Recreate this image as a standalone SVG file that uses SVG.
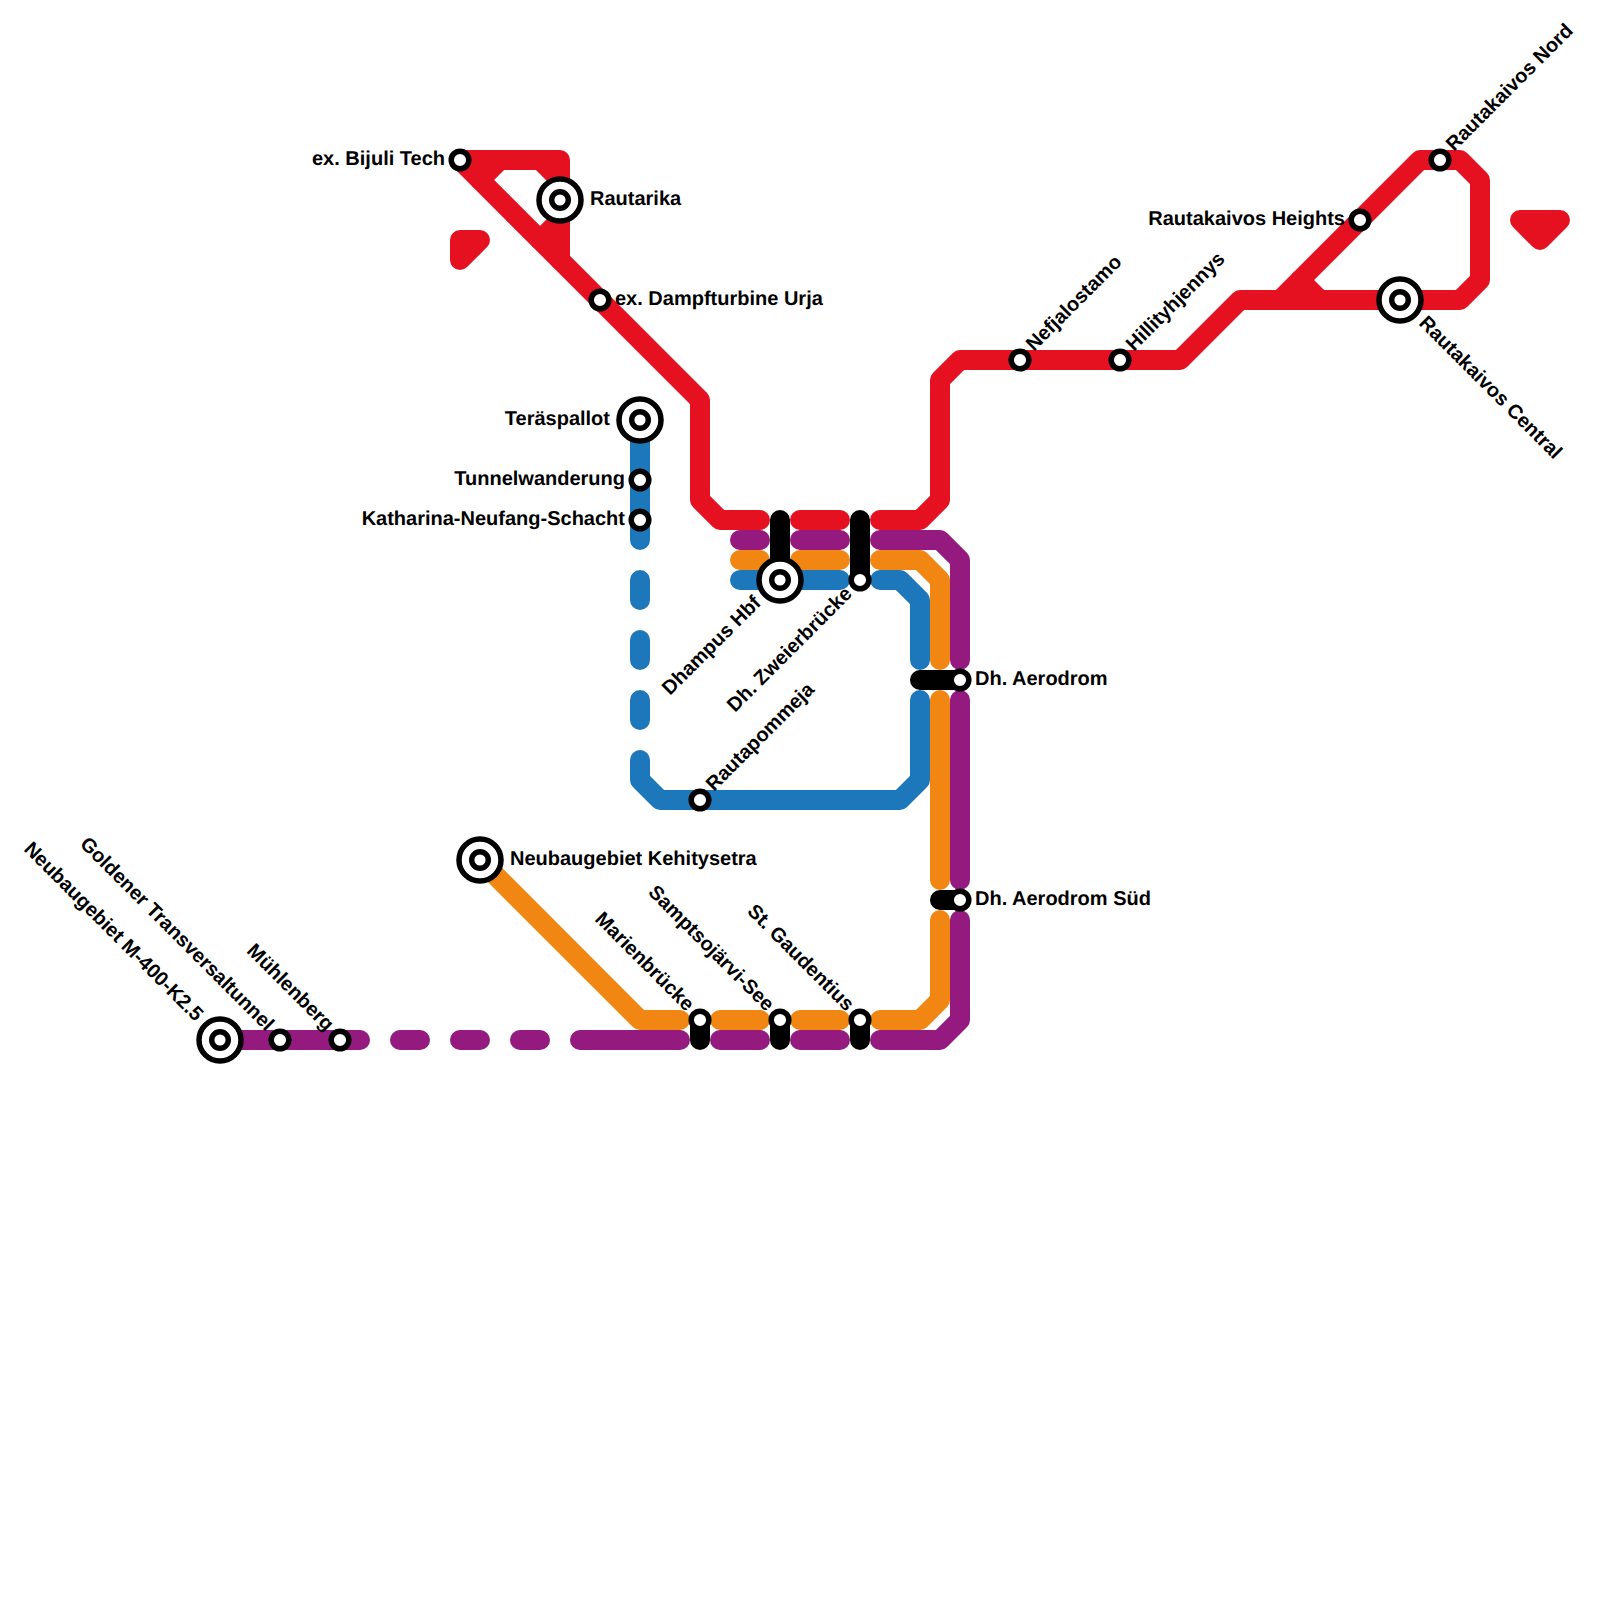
<svg xmlns="http://www.w3.org/2000/svg" width="1600" height="1600" viewBox="0 0 1600 1600">
<style>
.l{fill:none;stroke-width:20;stroke-linecap:round;stroke-linejoin:round}
.r{stroke:#e61120}.p{stroke:#951a80}.o{stroke:#f18612}.b{stroke:#1d78bb}.k{stroke:#000}
.s{fill:#fff;stroke:#000;stroke-width:5.5}
.t{fill:#000;font-family:"Liberation Sans",Arial,sans-serif;font-weight:700;font-size:20px;text-rendering:geometricPrecision}
.e{text-anchor:end}
</style>
<rect width="1600" height="1600" fill="#fff"/>
<g id="connectors">
<path class="l r" d="M460 240H480L460 260ZM1520 220H1560L1540 240Z"/>
<path class="l r" d="M460 160L700 400V500L720 520H760M800 520H840M880 520H920L940 500V380L960 360H1180L1240 300H1460L1480 280V180L1460 160H1420L1280 300"/>
<path class="l r" d="M460 160H560V260M540 160L560 180M480 180L500 160M540 240L560 220M1300 280L1320 300"/>
<path class="l p" d="M220 1040H360M400 1040H420M460 1040H480M520 1040H540M580 1040H680M720 1040H760M800 1040H840M880 1040H940L960 1020V920M960 880V700M960 660V560L940 540H880M840 540H800M760 540H740"/>
<path class="l o" d="M480 860L640 1020H680M720 1020H760M800 1020H840M880 1020H920L940 1000V920M940 880V700M940 660V580L920 560H880M840 560H800M760 560H740"/>
<path class="l b" d="M640 420V540M640 580V600M640 640V660M640 700V720M640 760V780L660 800H900L920 780V700M920 660V600L900 580H880M840 580H740"/>
<path class="l k" d="M780 520V580M860 520V580M920 680H960M940 900H960M700 1020V1040M780 1020V1040M860 1020V1040"/>
</g>
<defs>
<g id="big"><circle r="21" fill="#fff" stroke="#000" stroke-width="5.5"/><circle r="8.3" fill="#fff" stroke="#000" stroke-width="5.4" /></g>
</defs>
<g id="n1"><circle class="s" cx="460" cy="160" r="8.8"/><text class="t e" x="445" y="165">ex. Bijuli Tech</text></g>
<g id="n2"><use href="#big" x="560" y="200"/><text class="t" x="590" y="205">Rautarika</text></g>
<g id="n3"><circle class="s" cx="600" cy="300" r="8.8"/><text class="t" x="615" y="305">ex. Dampfturbine Urja</text></g>
<g id="n4"><use href="#big" x="640" y="420"/><text class="t e" x="610" y="425">Teräspallot</text></g>
<g id="n5"><circle class="s" cx="640" cy="480" r="8.8"/><text class="t e" x="625" y="485">Tunnelwanderung</text></g>
<g id="n6"><circle class="s" cx="640" cy="520" r="8.8"/><text class="t e" x="625" y="525">Katharina-Neufang-Schacht</text></g>
<g id="n7"><use href="#big" x="780" y="580"/><text class="t e" transform="translate(762 604) rotate(-45)">Dhampus Hbf</text></g>
<g id="n8"><circle class="s" cx="860" cy="580" r="8.8"/><text class="t e" transform="translate(853 595) rotate(-45)">Dh. Zweierbrücke</text></g>
<g id="n9"><circle class="s" cx="700" cy="800" r="8.8"/><text class="t" transform="translate(714 792) rotate(-45)">Rautapommeja</text></g>
<g id="n10"><circle class="s" cx="960" cy="680" r="8.8"/><text class="t" x="975" y="685">Dh. Aerodrom</text></g>
<g id="n11"><circle class="s" cx="960" cy="900" r="8.8"/><text class="t" x="975" y="905">Dh. Aerodrom Süd</text></g>
<g id="n12"><circle class="s" cx="1020" cy="360" r="8.8"/><text class="t" transform="translate(1034 352) rotate(-45)">Nefjalostamo</text></g>
<g id="n13"><circle class="s" cx="1120" cy="360" r="8.8"/><text class="t" transform="translate(1134 352) rotate(-45)">Hillityhjennys</text></g>
<g id="n14"><circle class="s" cx="1360" cy="220" r="8.8"/><text class="t e" x="1345" y="225">Rautakaivos Heights</text></g>
<g id="n15"><circle class="s" cx="1440" cy="160" r="8.8"/><text class="t" transform="translate(1454 152) rotate(-45)">Rautakaivos Nord</text></g>
<g id="n16"><use href="#big" x="1400" y="300"/><text class="t" transform="translate(1418 324) rotate(45)">Rautakaivos Central</text></g>
<g id="n17"><use href="#big" x="480" y="860"/><text class="t" x="510" y="865">Neubaugebiet Kehitysetra</text></g>
<g id="n18"><use href="#big" x="220" y="1040"/><text class="t e" transform="translate(195 1022) rotate(45)">Neubaugebiet M-400-K2.5</text></g>
<g id="n19"><circle class="s" cx="280" cy="1040" r="8.8"/><text class="t e" transform="translate(266 1032) rotate(45)">Goldener Transversaltunnel</text></g>
<g id="n20"><circle class="s" cx="340" cy="1040" r="8.8"/><text class="t e" transform="translate(326 1032) rotate(45)">Mühlenberg</text></g>
<g id="n21"><circle class="s" cx="700" cy="1020" r="8.8"/><text class="t e" transform="translate(686 1012) rotate(45)">Marienbrücke</text></g>
<g id="n22"><circle class="s" cx="780" cy="1020" r="8.8"/><text class="t e" transform="translate(766 1012) rotate(45)">Samptsojärvi-See</text></g>
<g id="n23"><circle class="s" cx="860" cy="1020" r="8.8"/><text class="t e" transform="translate(846 1012) rotate(45)">St. Gaudentius</text></g>
</svg>
